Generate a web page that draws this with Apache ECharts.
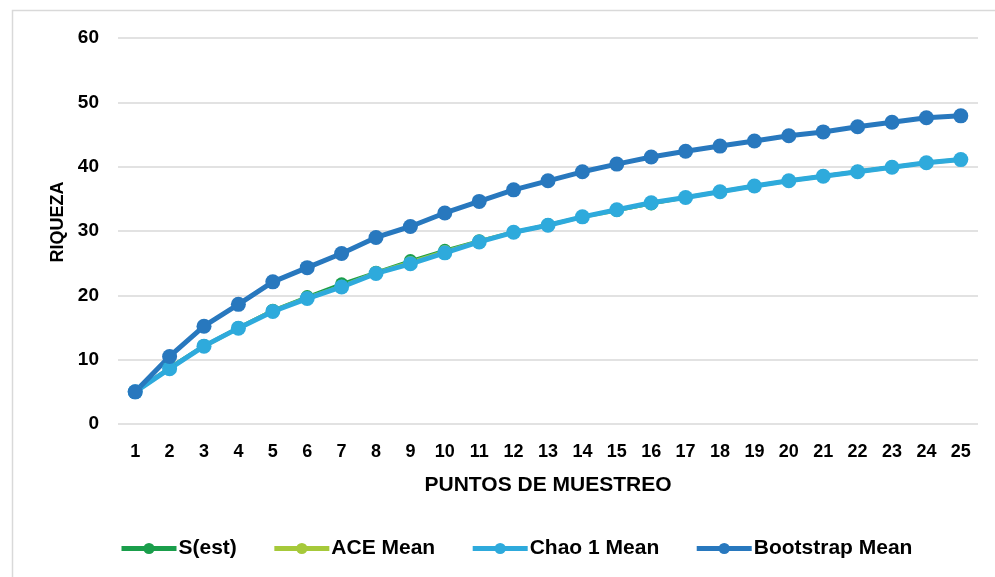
<!DOCTYPE html>
<html><head><meta charset="utf-8">
<script src="https://cdn.jsdelivr.net/npm/echarts@6/dist/echarts.min.js"></script>
<style>html,body{margin:0;padding:0;background:#fff}#c{width:995px;height:577px}</style>
</head><body><div id="c"></div>
<script>
const categories = ['1','2','3','4','5','6','7','8','9','10','11','12','13','14','15','16','17','18','19','20','21','22','23','24','25'];
const sEst      = [5.0,8.8,12.2,15.0,17.7,19.8,21.8,23.6,25.4,27.0,28.5,29.8,31.0,32.2,33.2,34.2,35.2,36.1,37.0,37.8,38.6,39.3,40.0,40.6,41.1];
const aceMean   = [5.0,8.7,12.1,14.9,17.6,19.6,21.4,23.5,25.1,26.8,28.4,29.8,30.9,32.2,33.2,34.3,35.2,36.1,37.0,37.8,38.5,39.2,39.9,40.6,41.1];
const chaoMean  = [5.0,8.6,12.1,14.9,17.5,19.5,21.3,23.4,24.9,26.6,28.3,29.8,30.9,32.2,33.3,34.4,35.2,36.1,37.0,37.8,38.5,39.2,39.9,40.6,41.1];
const bootMean  = [5.0,10.5,15.2,18.6,22.1,24.3,26.5,29.0,30.7,32.8,34.6,36.4,37.8,39.2,40.4,41.5,42.4,43.2,44.0,44.8,45.4,46.2,46.9,47.6,47.9];
const yTicks = [0,10,20,30,40,50,60];

const font = '"Liberation Sans", Arial, sans-serif';
function mk(name, data, color, width, size) {
  return {name, type:'line', data, symbol:'circle', symbolSize:size,
    lineStyle:{color, width}, itemStyle:{color}, emphasis:{disabled:true}};
}
const chart = echarts.init(document.getElementById('c'));
chart.setOption({
  animation:false,
  graphic:[{type:'rect', left:10, top:8, shape:{width:1000, height:600}, style:{fill:'none', stroke:'#d9d9d9', lineWidth:1.5}}],
  grid:{left:118, right:17, top:38, bottom:153},
  legend:{top:533, left:114, itemWidth:55, itemHeight:14, itemGap:35,
    lineStyle:{width:5},
    textStyle:{fontFamily:font, fontWeight:'bold', fontSize:21, color:'#000', padding:[0,0,0,-3]},
    data:['S(est)','ACE Mean','Chao 1 Mean','Bootstrap Mean']},
  xAxis:{type:'category', data:categories, boundaryGap:true,
    name:'PUNTOS DE MUESTREO', nameLocation:'middle', nameGap:51,
    nameTextStyle:{fontFamily:font, fontWeight:'bold', fontSize:21, color:'#000'},
    axisLine:{show:false}, axisTick:{show:false},
    axisLabel:{fontFamily:font, fontWeight:'bold', fontSize:18, color:'#000', margin:19, interval:0}},
  yAxis:{type:'value', min:yTicks[0], max:yTicks[yTicks.length-1], interval:10,
    name:'RIQUEZA', nameLocation:'middle', nameGap:50, nameRotate:90,
    nameTextStyle:{fontFamily:font, fontWeight:'bold', fontSize:18, color:'#000', padding:[0,0,0,18]},
    axisLine:{show:false}, axisTick:{show:false},
    axisLabel:{fontFamily:font, fontWeight:'bold', fontSize:19, color:'#000', margin:19},
    splitLine:{lineStyle:{color:'#d9d9d9', width:1.5}}},
  series:[
    mk('S(est)', sEst, '#1a9e4b', 3, 13),
    mk('ACE Mean', aceMean, '#a6c93a', 4, 13),
    mk('Chao 1 Mean', chaoMean, '#2eaadc', 5, 15),
    mk('Bootstrap Mean', bootMean, '#2878be', 5, 15)
  ]
});
</script></body></html>
